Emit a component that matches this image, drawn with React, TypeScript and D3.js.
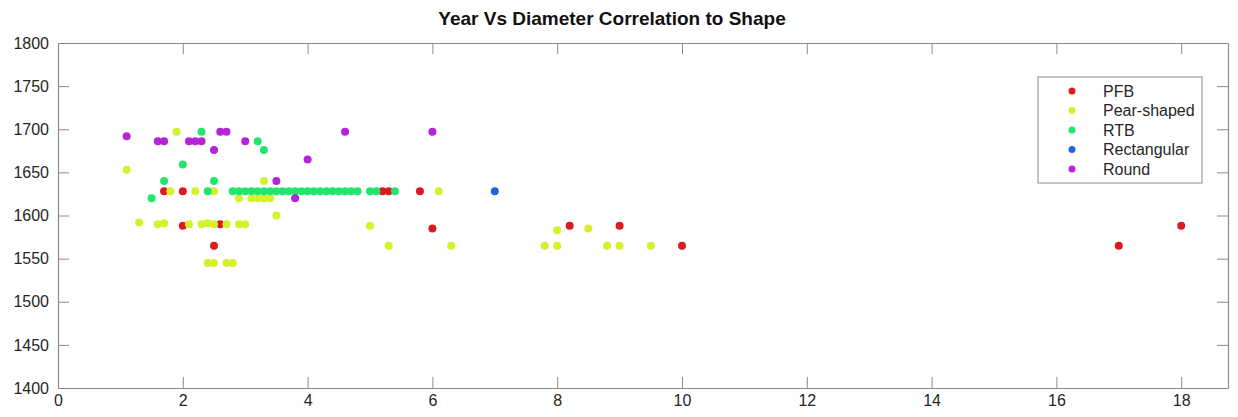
import React, { useRef, useEffect } from "react";
import * as d3 from "d3";

// data per shape group: years (x) and diameters (y)
const groupNames = ["PFB", "Pear-shaped", "RTB", "Rectangular", "Round"];
const groupColors = ["#dc1a22", "#d6f02c", "#22e56e", "#1f66d8", "#b424d8"];

const pfbX = [1.7, 2.0, 2.0, 2.6, 2.5, 5.2, 5.3, 5.8, 6.0, 8.2, 9.0, 10.0, 17, 18];
const pfbY = [1628, 1628, 1588, 1590, 1565, 1628, 1628, 1628, 1585, 1588, 1588, 1565, 1565, 1588];

const pearX = [1.9, 1.1, 3.3, 1.8, 2.2, 2.5, 6.1, 2.9, 3.1, 3.2, 3.3, 3.4, 3.5, 1.3, 1.6, 1.7, 2.1, 2.3, 2.4, 2.5, 2.7, 2.9, 3.0, 5.0, 8.0, 8.5, 5.3, 6.3, 7.8, 8.0, 8.8, 9.0, 9.5, 2.4, 2.5, 2.7, 2.8];
const pearY = [1697, 1653, 1640, 1628, 1628, 1628, 1628, 1620, 1620, 1620, 1620, 1620, 1600, 1592, 1590, 1591, 1590, 1590, 1591, 1590, 1590, 1590, 1590, 1588, 1583, 1585, 1565, 1565, 1565, 1565, 1565, 1565, 1565, 1545, 1545, 1545, 1545];

const rtbX = [2.3, 3.2, 3.3, 2.0, 1.7, 2.5, 1.5, 2.4, 2.8, 2.9, 3.0, 3.1, 3.2, 3.3, 3.4, 3.5, 3.6, 3.7, 3.8, 3.9, 4.0, 4.1, 4.2, 4.3, 4.4, 4.5, 4.6, 4.7, 4.8, 5.0, 5.1, 5.4];
const rtbY = [1697, 1686, 1676, 1659, 1640, 1640, 1620, 1628, 1628, 1628, 1628, 1628, 1628, 1628, 1628, 1628, 1628, 1628, 1628, 1628, 1628, 1628, 1628, 1628, 1628, 1628, 1628, 1628, 1628, 1628, 1628, 1628];

const rectX = [7.0];
const rectY = [1628];

const roundX = [1.1, 2.6, 2.7, 1.6, 1.7, 2.1, 2.2, 2.3, 3.0, 2.5, 4.0, 3.5, 3.8, 4.6, 6.0];
const roundY = [1692, 1697, 1697, 1686, 1686, 1686, 1686, 1686, 1686, 1676, 1665, 1640, 1620, 1697, 1697];

const xTicks = [0, 2, 4, 6, 8, 10, 12, 14, 16, 18];
const yTicks = [1400, 1450, 1500, 1550, 1600, 1650, 1700, 1750, 1800];

const groups = [
  [pfbX, pfbY],
  [pearX, pearY],
  [rtbX, rtbY],
  [rectX, rectY],
  [roundX, roundY],
];

function ScatterChart() {
  const svgRef = useRef<SVGSVGElement>(null);

  const svgWidth = 1238;
  const svgHeight = 417;
  const left = 58;
  const right = 1228;
  const top = 43;
  const bottom = 388;
  const axisColor = "#8a8a8a";
  const textColor = "#262626";
  const font = "'Liberation Sans', Arial, sans-serif";

  useEffect(() => {
    const svg = d3.select(svgRef.current);
    svg.selectAll("*").remove();

    // Scales
    const xScale = d3.scaleLinear().domain([0, 18.75]).range([left, right]);
    const yScale = d3.scaleLinear().domain([1400, 1800]).range([bottom, top]);

    // Title
    svg
      .append("text")
      .attr("x", 612)
      .attr("y", 25)
      .attr("text-anchor", "middle")
      .attr("font-family", font)
      .attr("font-weight", "bold")
      .attr("font-size", "19px")
      .attr("fill", "#111")
      .text("Year Vs Diameter Correlation to Shape");

    // Axes (box with inward ticks on all sides)
    const tickLen = 11;
    const xBottom = d3.axisBottom(xScale).tickValues(xTicks).tickFormat(d3.format("d")).tickSizeInner(-tickLen).tickSizeOuter(0).tickPadding(7);
    const xTop = d3.axisTop(xScale).tickValues(xTicks).tickSizeInner(-tickLen).tickSizeOuter(0).tickFormat(() => "");
    const yLeft = d3.axisLeft(yScale).tickValues(yTicks).tickFormat(d3.format("d")).tickSizeInner(-tickLen).tickSizeOuter(0).tickPadding(9);
    const yRight = d3.axisRight(yScale).tickValues(yTicks).tickSizeInner(-tickLen).tickSizeOuter(0).tickFormat(() => "");

    const styleAxis = (g: any) => {
      g.select(".domain").attr("stroke", axisColor).attr("stroke-width", 1.2);
      g.selectAll(".tick line").attr("stroke", axisColor);
      g.selectAll(".tick text")
        .attr("fill", textColor)
        .attr("font-family", font)
        .attr("font-size", "16px");
    };

    svg.append("g").attr("transform", `translate(0,${bottom})`).call(xBottom).call(styleAxis);
    svg.append("g").attr("transform", `translate(0,${top})`).call(xTop).call(styleAxis);
    svg.append("g").attr("transform", `translate(${left},0)`).call(yLeft).call(styleAxis);
    svg.append("g").attr("transform", `translate(${right},0)`).call(yRight).call(styleAxis);

    // Points
    groups.forEach(([xs, ys], gi) => {
      svg
        .append("g")
        .selectAll("circle")
        .data(xs.map((x, i) => ({ x, y: ys[i] })))
        .join("circle")
        .attr("cx", (d) => xScale(d.x))
        .attr("cy", (d) => yScale(d.y))
        .attr("r", 4)
        .attr("fill", groupColors[gi]);
    });

    // Legend
    const legend = svg.append("g").attr("transform", "translate(1038,77)");
    legend
      .append("rect")
      .attr("width", 164)
      .attr("height", 106)
      .attr("fill", "white")
      .attr("stroke", axisColor);
    groupNames.forEach((name, i) => {
      const ly = 14 + i * 19.5;
      legend
        .append("circle")
        .attr("cx", 34)
        .attr("cy", ly)
        .attr("r", 3.5)
        .attr("fill", groupColors[i]);
      legend
        .append("text")
        .attr("x", 65)
        .attr("y", ly)
        .attr("dy", "0.35em")
        .attr("font-family", font)
        .attr("font-size", "16px")
        .attr("fill", textColor)
        .text(name);
    });
  }, []);

  return (
    <svg
      ref={svgRef}
      width={svgWidth}
      height={svgHeight}
      style={{ position: "absolute", left: 0, top: 0, background: "white" }}
    />
  );
}

export default function App() {
  return <ScatterChart />;
}
